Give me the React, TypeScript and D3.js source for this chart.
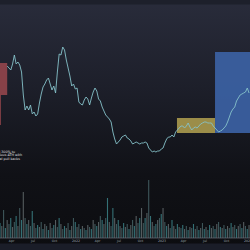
import React from "react";
import * as d3 from "d3";

const W = 250;
const H = 250;

// time axis in months since Jan 2021
const MONTH_START = 1.395;
const MONTH_END = 36.28;
const tickMonths = [3, 6, 9, 12, 15, 18, 21, 24, 27, 30, 33, 36];
const tickLabels = ["Apr", "Jul", "Oct", "2022", "Apr", "Jul", "Oct", "2023", "Apr", "Jul", "Oct", "2024"];

// price series: one value every quarter month starting at PRICE_START
const PRICE_START = 2.4;
const STEP = 0.25;
const prices = [
  57, 56, 55, 58, 62.5, 58, 59, 57.5, 54, 42.5,
  35, 37, 35, 37.5, 33, 34, 32, 33, 38.5, 43,
  46.5, 48, 50, 51, 48, 45, 47, 43.5, 54, 63,
  62.5, 66.5, 65, 60, 56, 52, 47, 48, 45.5, 46,
  39, 38, 37.5, 40, 41.5, 40.5, 37.5, 41, 44, 46,
  44.5, 40.5, 39.5, 36.5, 34.5, 32.5, 31.5, 30.5, 29, 24,
  20.5, 18, 19, 20, 21.5, 22, 22.5, 21, 20.5, 19.5,
  18, 18.5, 19, 18.5, 18, 18.5, 18.5, 19, 18.5, 16,
  15, 14, 14.5, 14, 14.5, 14.5, 15.5, 16, 18.5, 20.5,
  21.5, 21.5, 22.5, 21.5, 24, 25, 26, 27, 27, 26,
  27, 28.5, 26.5, 25, 26, 26.5, 26, 27, 28, 28.5,
  29, 29, 28.5, 28.5, 28.5, 27, 26, 25, 24, 24.5,
  25, 26, 27, 29, 31.5, 34, 35.5, 36.5, 39.5, 41,
  42.5, 43, 43.5, 44, 46, 43.5,
];

// volume series: one bar every quarter month from MONTH_START
const volumes = [
  15, 12, 28, 10, 18, 14, 20, 11, 16, 22,
  12, 30, 18, 46, 20, 14, 18, 12, 27, 15,
  10, 13, 11, 16, 9, 14, 12, 8, 15, 10,
  13, 18, 11, 20, 14, 9, 12, 10, 15, 8,
  12, 20, 16, 11, 14, 9, 12, 10, 8, 13,
  11, 9, 18, 14, 12, 16, 22, 18, 14, 20,
  40, 16, 12, 30, 20, 14, 18, 12, 10, 15,
  11, 14, 9, 13, 18, 12, 22, 15, 20, 30,
  15, 20, 25, 58, 22, 16, 12, 14, 18, 20,
  24, 30, 16, 12, 14, 10, 18, 12, 9, 14,
  11, 10, 13, 9, 12, 8, 11, 10, 14, 9,
  12, 8, 10, 15, 9, 11, 8, 13, 10, 12,
  9, 14, 16, 11, 10, 13, 9, 12, 10, 15,
  11, 13, 9, 12, 14, 10, 16, 12, 9, 13,
];

// zones: [startMonth, endMonth, topPrice, bottomPrice]
const zoneStart = [0, 26.09, 31.4];
const zoneEnd = [2.4, 31.4, 40];
const zoneTop = [58.5, 31, 64];
const zoneBottom = [42.5, 23.5, 23.5];
const zoneColors = ["#a34a50", "#aa9a4e", "#3c63a6"];

const noteLines = ["Rallied 300% to", "previous ATH with", "minimal pull backs"];

export default function App() {
  const x = d3.scaleLinear().domain([MONTH_START, MONTH_END]).range([0, W]);
  const y = d3.scaleLinear().domain([10, 70]).range([160, 40]);
  const yv = d3.scaleLinear().domain([0, 60]).range([238, 178]);

  const line = d3
    .line<number>()
    .x((_, i) => x(PRICE_START + i * STEP))
    .y((d) => y(d));

  return (
    <svg
      width={W}
      height={H}
      style={{ position: "fixed", left: 0, top: 0 }}
      xmlns="http://www.w3.org/2000/svg"
    >
      <defs>
        <linearGradient id="bg" x1="0" y1="0" x2="0" y2="1">
          <stop offset="0" stopColor="#292c3b" />
          <stop offset="0.35" stopColor="#1d1f2a" />
          <stop offset="0.7" stopColor="#101116" />
          <stop offset="1" stopColor="#0c0d10" />
        </linearGradient>
      </defs>
      <rect x={0} y={0} width={W} height={H} fill="url(#bg)" />
      <rect x={0} y={0} width={W} height={4.5} fill="#1d202b" />

      {zoneStart.map((s, i) => (
        <rect
          key={"z" + i}
          x={x(Math.max(s, MONTH_START))}
          y={y(zoneTop[i])}
          width={x(Math.min(zoneEnd[i], MONTH_END)) - x(Math.max(s, MONTH_START))}
          height={y(zoneBottom[i]) - y(zoneTop[i])}
          fill={zoneColors[i]}
          opacity={i === 0 ? 0.8 : 0.9}
        />
      ))}
      <rect x={0} y={y(42.5)} width={1} height={30} fill="#a34a50" opacity={0.7} />

      {volumes.map((v, j) => (
        <rect
          key={"v" + j}
          x={x(MONTH_START + j * STEP) - 0.55}
          y={yv(v)}
          width={1.1}
          height={yv(0) - yv(v)}
          fill={j % 3 === 0 ? "#3f8a8f" : j % 3 === 1 ? "#666f72" : "#4a686b"}
          opacity={0.8}
        />
      ))}

      <path d={line(prices) || ""} fill="none" stroke="#86c2ca" strokeWidth={0.9} />

      <g fontFamily="DejaVu Sans" fontSize={3.3} fill="#e0e0e0" textAnchor="end">
        <text x={15} y={152.8}>{noteLines[0]}</text>
        <text x={22} y={156.3}>{noteLines[1]}</text>
        <text x={20} y={159.8}>{noteLines[2]}</text>
      </g>

      <line x1={0} x2={W} y1={238} y2={238} stroke="#6a6f7a" strokeWidth={0.7} />
      <g fontFamily="DejaVu Sans" fontSize={3.2} fill="#9aa0aa" textAnchor="middle">
        {tickMonths.map((m, i) => (
          <text key={"t" + i} x={x(m)} y={241.8}>{tickLabels[i]}</text>
        ))}
      </g>
      <rect x={0} y={243.5} width={W} height={H - 243.5} fill="#1a1d28" />
    </svg>
  );
}
